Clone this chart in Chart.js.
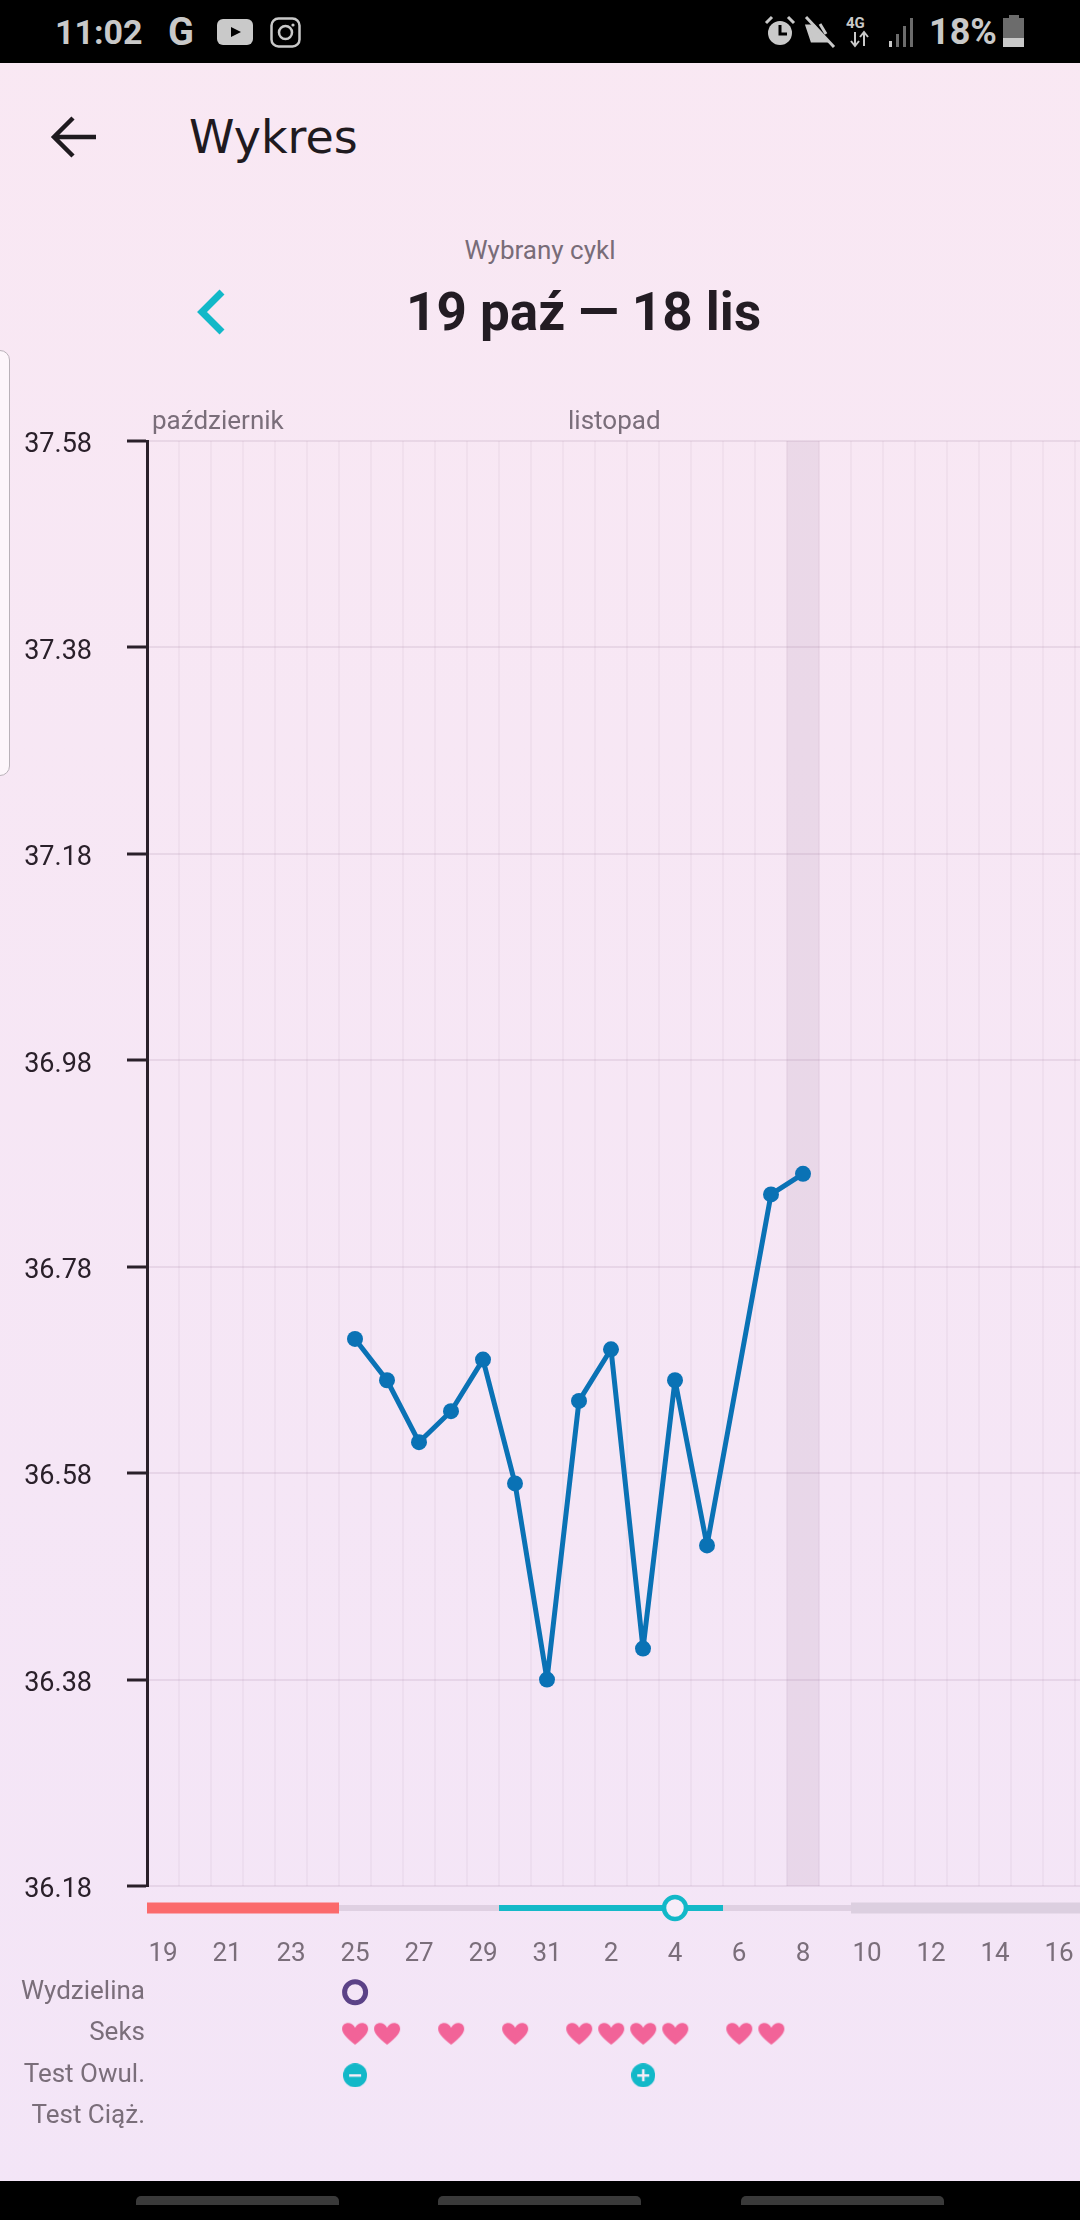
<!DOCTYPE html>
<html lang="pl">
<head>
<meta charset="utf-8">
<title>Wykres</title>
<script src="https://cdn.jsdelivr.net/npm/chart.js@4"></script>
<style>
    html, body { margin: 0; padding: 0; }
    body {
        position: relative; width: 1080px; height: 2220px; overflow: hidden;
        font-family: Roboto, sans-serif;
        background: linear-gradient(180deg, #f9e8f3 0%, #f3e5f7 100%);
    }
    .abs { position: absolute; white-space: nowrap; }
    .bar-black { position: absolute; left: 0; width: 1080px; background: #000; }
    .pill { position: absolute; top: 2196px; width: 203px; height: 9px; background: #3a3a3a; border-radius: 5px 5px 0 0; }
    #tempCanvas { position: absolute; left: 0; top: 400px; }
    #rowsCanvas { position: absolute; left: 0; top: 1956px; }
    #sidePanel {
        position: absolute; left: -12px; top: 350px; width: 20px; height: 424px;
        background: #fdf6fb; border: 1.5px solid #b9b2b9; border-radius: 10px;
    }
</style>
</head>
<body>

<!-- status bar -->
<div class="bar-black" style="top:0;height:63px"></div>
<div class="abs" style="left:55px;top:12px;color:#c9c9c9;font:700 34px Roboto">11:02</div>
<div class="abs" style="left:168px;top:10px;color:#c9c9c9;font:700 38px Roboto">G</div>
<svg class="abs" style="left:217px;top:17px" width="86" height="32" viewBox="0 0 86 32">
    <rect x="0" y="2" width="36" height="26" rx="6" fill="#c9c9c9"/>
    <path d="M14 10 L24 15 L14 20 Z" fill="#000"/>
    <rect x="54.5" y="1.5" width="28" height="28" rx="7" fill="none" stroke="#c9c9c9" stroke-width="2.5"/>
    <circle cx="68.5" cy="15.5" r="6.5" fill="none" stroke="#c9c9c9" stroke-width="2.5"/>
    <circle cx="76" cy="8" r="1.6" fill="#c9c9c9"/>
</svg>
<svg class="abs" style="left:762px;top:14px" width="160" height="36" viewBox="0 0 160 36">
    <circle cx="18" cy="19" r="12" fill="#c9c9c9"/>
    <path d="M18 11 V20 H25" fill="none" stroke="#000" stroke-width="3"/>
    <path d="M4 9 L10 3 M32 9 L26 3" stroke="#c9c9c9" stroke-width="3"/>
    <path d="M45 12 H52 L64 27 H50 Z M58 10 L64 20" fill="#c9c9c9" stroke="#c9c9c9" stroke-width="3"/>
    <path d="M44 3 L72 33" stroke="#c9c9c9" stroke-width="3"/>
    <path d="M93 18 V31 M89 27 L93 32 L97 27 M102 32 V19 M98 23 L102 18 L106 23" fill="none" stroke="#c9c9c9" stroke-width="2"/>
    <rect x="127" y="27" width="3" height="6" fill="#c9c9c9"/>
    <rect x="134" y="20" width="3" height="13" fill="#6c6c6c"/>
    <rect x="141" y="12" width="3" height="21" fill="#6c6c6c"/>
    <rect x="148" y="4" width="3" height="29" fill="#6c6c6c"/>
</svg>
<div class="abs" style="left:846px;top:14px;color:#c9c9c9;font:700 15px Roboto">4G</div>
<div class="abs" style="left:929px;top:11px;color:#c9c9c9;font:700 36px Roboto">18%</div>
<svg class="abs" style="left:1003px;top:14px" width="22" height="34" viewBox="0 0 22 34">
    <rect x="6" y="1" width="10" height="4" fill="#6c6c6c"/>
    <rect x="0" y="4" width="21" height="20" fill="#6c6c6c"/>
    <rect x="0" y="24" width="21" height="9" fill="#c9c9c9"/>
</svg>

<!-- header -->
<svg class="abs" style="left:48px;top:112px" width="52" height="50" viewBox="0 0 52 50">
    <path d="M48 25 H6 M25 6 L6 25 L25 44" fill="none" stroke="#1f1a1f" stroke-width="4.5"/>
</svg>
<div class="abs" style="left:189px;top:110px;color:#1f1a1f;font:400 46px 'DejaVu Sans'">Wykres</div>
<div class="abs" style="left:0;width:1080px;top:235px;text-align:center;color:#786c78;font:400 26px Roboto">Wybrany cykl</div>
<svg class="abs" style="left:194px;top:287px" width="36" height="50" viewBox="0 0 36 50">
    <path d="M28 5 L8 25 L28 45" fill="none" stroke="#12b8c8" stroke-width="7"/>
</svg>
<div class="abs" style="left:406px;width:354px;top:281px;text-align:center;color:#231c23;font:700 53px Roboto">19 paź — 18 lis</div>
<div id="sidePanel"></div>

<canvas id="tempCanvas" width="1147" height="1566"></canvas>
<canvas id="rowsCanvas" width="1155" height="197"></canvas>

<!-- nav bar -->
<div class="bar-black" style="top:2181px;height:39px"></div>
<div class="pill" style="left:136px"></div>
<div class="pill" style="left:438px"></div>
<div class="pill" style="left:741px"></div>

<script>
// ==================== DATA ====================
const days = ['19','20','21','22','23','24','25','26','27','28','29','30','31',
              '1','2','3','4','5','6','7','8','9','10','11','12','13','14','15','16','17','18'];
const temperatures = [null,null,null,null,null,null,36.71,36.67,36.61,36.64,36.69,36.57,36.38,
                      36.65,36.70,36.41,36.67,36.51,null,36.85,36.87,null,null,null,null,null,null,null,null,null,null];
const yTicks = [36.18, 36.38, 36.58, 36.78, 36.98, 37.18, 37.38, 37.58];
const todayDay = '8';

const monthNames = ['październik', 'listopad'];
const monthStartDays = ['19', '1'];

const phaseKinds = ['period', 'low', 'fertile', 'low', 'future'];
const phaseFirstDays = ['19', '25', '30', '6', '10'];
const phaseLastDays = ['24', '29', '5', '9', '18'];
const ovulationDay = '4';

const rowNames = ['Wydzielina', 'Seks', 'Test Owul.', 'Test Ciąż.'];
const dischargeDays = ['25'];
const sexDays = ['25','26','28','30','1','2','3','4','6','7'];
const ovulationNegativeDays = ['25'];
const ovulationPositiveDays = ['3'];

// ==================== STYLES ====================
const INK = '#2a202a';
const MUTED = '#7a6e7a';
const TEAL = '#12b8c8';
const LINE_BLUE = '#0a72b5';
const AXIS_WIDTH = 147;
const phaseStyles = {
    period:  { color: '#fb6a6c', height: 11 },
    low:     { color: '#dfd0e2', height: 6 },
    fertile: { color: '#14b9c8', height: 6 },
    future:  { color: '#dccfe0', height: 11 }
};

// Dibuja un icono en un canvas pequeño para usarlo como pointStyle
function makeIcon(width, height, draw) {
    const c = document.createElement('canvas');
    c.width = width;
    c.height = height;
    draw(c.getContext('2d'));
    return c;
}

const heartIcon = makeIcon(28, 24, ctx => {
    ctx.fillStyle = '#f26398';
    ctx.beginPath();
    ctx.moveTo(14, 23);
    ctx.bezierCurveTo(4, 15, 1, 11, 1, 7);
    ctx.bezierCurveTo(1, 0, 11, -1, 14, 6);
    ctx.bezierCurveTo(17, -1, 27, 0, 27, 7);
    ctx.bezierCurveTo(27, 11, 24, 15, 14, 23);
    ctx.fill();
});

function testIcon(positive) {
    return makeIcon(24, 24, ctx => {
        ctx.fillStyle = TEAL;
        ctx.beginPath();
        ctx.arc(12, 12, 12, 0, Math.PI * 2);
        ctx.fill();
        ctx.fillStyle = '#f7edf8';
        ctx.fillRect(6, 11, 12, 2.5);
        if (positive) ctx.fillRect(10.8, 6, 2.5, 12);
    });
}

// Tira de fases y nombres de mes, posicionados con la escala X
const stripPlugin = {
    id: 'cycleStrip',
    afterDraw(chart) {
        const { ctx, scales: { x }, chartArea } = chart;
        const half = (x.getPixelForValue(1) - x.getPixelForValue(0)) / 2;
        const stripY = chartArea.bottom + 22;
        ctx.save();
        phaseKinds.forEach((kind, i) => {
            const from = x.getPixelForValue(days.indexOf(phaseFirstDays[i])) - half;
            const to = x.getPixelForValue(days.indexOf(phaseLastDays[i])) + half;
            const style = phaseStyles[kind];
            ctx.fillStyle = style.color;
            ctx.fillRect(from, stripY - style.height / 2, to - from, style.height);
        });
        ctx.beginPath();
        ctx.arc(x.getPixelForValue(days.indexOf(ovulationDay)), stripY, 11, 0, Math.PI * 2);
        ctx.fillStyle = '#f7edf8';
        ctx.fill();
        ctx.lineWidth = 4.5;
        ctx.strokeStyle = TEAL;
        ctx.stroke();

        ctx.font = '400 26px Roboto';
        ctx.fillStyle = MUTED;
        ctx.textBaseline = 'alphabetic';
        monthNames.forEach((name, i) => {
            ctx.fillText(name, x.getPixelForValue(days.indexOf(monthStartDays[i])) - half + 5, chartArea.top - 12);
        });
        ctx.restore();
    }
};

// La escala reserva margen para sus etiquetas; aquí el área debe quedar exacta
function dropScalePadding(scale) {
    scale.paddingLeft = 0;
    scale.paddingRight = 0;
    scale.paddingTop = 0;
    scale.paddingBottom = 0;
}

function createTemperatureChart() {
    const ctx = document.getElementById('tempCanvas').getContext('2d');
    return new Chart(ctx, {
        data: {
            labels: days,
            datasets: [{
                type: 'line',
                data: temperatures,
                order: 0,
                borderColor: LINE_BLUE,
                backgroundColor: LINE_BLUE,
                borderWidth: 5,
                borderJoinStyle: 'round',
                tension: 0,
                spanGaps: true,
                pointRadius: 8,
                pointBorderWidth: 0
            }, {
                type: 'bar',
                data: [{ x: todayDay, y: [yTicks[0], yTicks[yTicks.length - 1]] }],
                order: 1,
                backgroundColor: 'rgba(110, 70, 110, 0.09)',
                barPercentage: 1,
                categoryPercentage: 1
            }]
        },
        options: {
            responsive: false,
            animation: false,
            devicePixelRatio: 1,
            layout: { padding: { top: 41, right: 0, bottom: 0, left: 0 } },
            plugins: { legend: { display: false }, tooltip: { enabled: false } },
            scales: {
                x: {
                    type: 'category',
                    offset: true,
                    afterFit: scale => { scale.height = 80; dropScalePadding(scale); },
                    border: { display: false },
                    grid: { color: 'rgba(110, 70, 110, 0.05)', lineWidth: 2, drawTicks: false, offset: true },
                    ticks: {
                        autoSkip: false,
                        maxRotation: 0,
                        padding: 53,
                        color: MUTED,
                        font: { family: 'Roboto', size: 26 },
                        callback: (value, index) => index % 2 === 0 ? days[index] : ''
                    }
                },
                y: {
                    min: yTicks[0],
                    max: yTicks[yTicks.length - 1],
                    afterBuildTicks: scale => { scale.ticks = yTicks.map(v => ({ value: v })); },
                    afterFit: scale => { scale.width = AXIS_WIDTH; dropScalePadding(scale); },
                    border: { color: INK, width: 3 },
                    grid: {
                        color: 'rgba(110, 70, 110, 0.1)',
                        lineWidth: 2,
                        tickColor: INK,
                        tickWidth: 3,
                        tickLength: 20
                    },
                    ticks: {
                        autoSkip: false,
                        padding: 35,
                        labelOffset: 4.5,
                        color: INK,
                        font: { family: 'Roboto', size: 27 },
                        callback: value => value.toFixed(2)
                    }
                }
            }
        },
        plugins: [stripPlugin]
    });
}

function rowPoints(dayList, rowName) {
    return dayList.map(day => ({ x: day, y: rowName }));
}

function createRowsChart() {
    const ctx = document.getElementById('rowsCanvas').getContext('2d');
    const shared = { showLine: false, clip: false };
    return new Chart(ctx, {
        type: 'line',
        data: {
            labels: days,
            datasets: [{
                ...shared,
                data: rowPoints(dischargeDays, rowNames[0]),
                pointStyle: 'circle',
                pointRadius: 10.5,
                pointBorderWidth: 5,
                pointBorderColor: '#5b4287',
                pointBackgroundColor: 'transparent'
            }, {
                ...shared,
                data: rowPoints(sexDays, rowNames[1]),
                pointStyle: heartIcon
            }, {
                ...shared,
                data: rowPoints(ovulationNegativeDays, rowNames[2]),
                pointStyle: testIcon(false)
            }, {
                ...shared,
                data: rowPoints(ovulationPositiveDays, rowNames[2]),
                pointStyle: testIcon(true)
            }]
        },
        options: {
            responsive: false,
            animation: false,
            devicePixelRatio: 1,
            layout: { padding: 0 },
            plugins: { legend: { display: false }, tooltip: { enabled: false } },
            scales: {
                x: { type: 'category', offset: true, display: false },
                y: {
                    type: 'category',
                    labels: rowNames,
                    offset: true,
                    afterFit: scale => { scale.width = AXIS_WIDTH; dropScalePadding(scale); },
                    border: { display: false },
                    grid: { display: false, drawTicks: false },
                    ticks: {
                        autoSkip: false,
                        padding: 2,
                        color: MUTED,
                        font: { family: 'Roboto', size: 26 }
                    }
                }
            }
        }
    });
}

createTemperatureChart();
createRowsChart();
</script>
</body>
</html>
